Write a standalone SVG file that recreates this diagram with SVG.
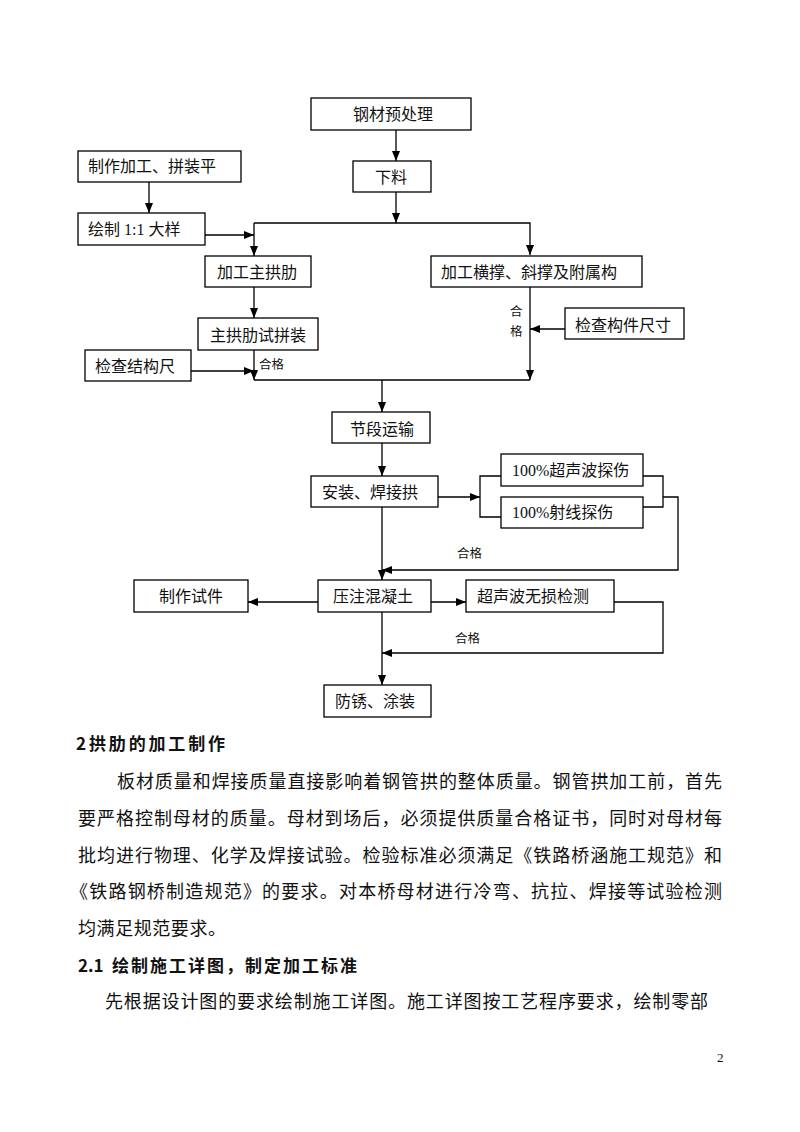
<svg xmlns="http://www.w3.org/2000/svg" width="800" height="1132" viewBox="0 0 800 1132">
<style>
.box{fill:#fff;stroke:#000;stroke-width:1.3}
.lbl{font-family:"Liberation Serif","Noto Sans CJK SC",serif;font-size:16px;fill:#111}
.sm{font-family:"Noto Sans CJK SC",sans-serif;font-size:12.5px;fill:#111}
.ln{fill:none;stroke:#000;stroke-width:1.3}
.body{font-family:"Liberation Serif","Noto Sans CJK SC",serif;font-size:18px;fill:#111}
.hd{font-family:"Noto Sans CJK SC",sans-serif;font-size:17px;font-weight:bold;fill:#111}
</style>
<defs>
<marker id="ah" markerWidth="10" markerHeight="8" refX="10" refY="4" orient="auto" markerUnits="userSpaceOnUse">
<path d="M0,0 L10,4 L0,8 Z" fill="#000"/>
</marker>
</defs>
<rect width="800" height="1132" fill="#fff"/>

<g id="connectors">
<line class="ln" x1="396" y1="130" x2="396" y2="161" marker-end="url(#ah)"/>
<line class="ln" x1="396" y1="192" x2="396" y2="223" marker-end="url(#ah)"/>
<polyline class="ln" points="254,223 530,223 530,255" marker-end="url(#ah)"/>
<line class="ln" x1="254" y1="223" x2="254" y2="256" marker-end="url(#ah)"/>
<line class="ln" x1="149" y1="182" x2="149" y2="213" marker-end="url(#ah)"/>
<line class="ln" x1="205" y1="235" x2="254" y2="235" marker-end="url(#ah)"/>
<line class="ln" x1="254" y1="287" x2="254" y2="318" marker-end="url(#ah)"/>
<line class="ln" x1="254" y1="350" x2="254" y2="380" marker-end="url(#ah)"/>
<line class="ln" x1="191" y1="371" x2="254" y2="371" marker-end="url(#ah)"/>
<line class="ln" x1="254" y1="380" x2="530" y2="380"/>
<line class="ln" x1="530" y1="287" x2="530" y2="380" marker-end="url(#ah)"/>
<line class="ln" x1="565" y1="329" x2="530" y2="329" marker-end="url(#ah)"/>
<line class="ln" x1="382" y1="380" x2="382" y2="412" marker-end="url(#ah)"/>
<line class="ln" x1="382" y1="443" x2="382" y2="476" marker-end="url(#ah)"/>
<line class="ln" x1="438" y1="497" x2="480" y2="497" marker-end="url(#ah)"/>
<polyline class="ln" points="501,476 480,476 480,517 501,517"/>
<polyline class="ln" points="643,476 663,476 663,507 643,507"/>
<polyline class="ln" points="663,497 678,497 678,570 382,570" marker-end="url(#ah)"/>
<line class="ln" x1="382" y1="507" x2="382" y2="580" marker-end="url(#ah)"/>
<line class="ln" x1="318" y1="602" x2="248" y2="602" marker-end="url(#ah)"/>
<line class="ln" x1="431" y1="602" x2="466" y2="602" marker-end="url(#ah)"/>
<polyline class="ln" points="614,602 663,602 663,653 382,653" marker-end="url(#ah)"/>
<line class="ln" x1="382" y1="612" x2="382" y2="685" marker-end="url(#ah)"/>
<text class="sm" x="259" y="369">合格</text>
<text class="sm" x="510" y="316">合</text>
<text class="sm" x="510" y="336">格</text>
<text class="sm" x="457" y="558">合格</text>
<text class="sm" x="455" y="643">合格</text>
</g>

<g id="n_gcyc"><rect class="box" x="311" y="98" width="160" height="32"/><text class="lbl" x="353" y="120">钢材预处理</text></g>
<g id="n_xl"><rect class="box" x="353" y="161" width="78" height="31"/><text class="lbl" x="375" y="183">下料</text></g>
<g id="n_zzjg"><rect class="box" x="78" y="151" width="163" height="31"/><text class="lbl" x="88" y="172">制作加工、拼装平</text></g>
<g id="n_hzdy"><rect class="box" x="78" y="213" width="127" height="32"/><text class="lbl" x="88" y="235">绘制 1:1 大样</text></g>
<g id="n_jgzgl"><rect class="box" x="205" y="256" width="106" height="31"/><text class="lbl" x="217" y="278">加工主拱肋</text></g>
<g id="n_jghc"><rect class="box" x="431" y="256" width="211" height="31"/><text class="lbl" x="441" y="278">加工横撑、斜撑及附属构</text></g>
<g id="n_zglspz"><rect class="box" x="198" y="318" width="120" height="32"/><text class="lbl" x="210" y="341">主拱肋试拼装</text></g>
<g id="n_jcjgc"><rect class="box" x="85" y="350" width="106" height="31"/><text class="lbl" x="95" y="372">检查结构尺</text></g>
<g id="n_jcgjcc"><rect class="box" x="565" y="308" width="119" height="31"/><text class="lbl" x="575" y="331">检查构件尺寸</text></g>
<g id="n_jdys"><rect class="box" x="332" y="412" width="98" height="31"/><text class="lbl" x="350" y="435">节段运输</text></g>
<g id="n_azhj"><rect class="box" x="311" y="476" width="127" height="31"/><text class="lbl" x="322" y="498">安装、焊接拱</text></g>
<g id="n_csb"><rect class="box" x="501" y="454" width="142" height="32"/><text class="lbl" x="512" y="476">100%超声波探伤</text></g>
<g id="n_sx"><rect class="box" x="501" y="497" width="142" height="31"/><text class="lbl" x="512" y="518">100%射线探伤</text></g>
<g id="n_zzsj"><rect class="box" x="134" y="580" width="114" height="32"/><text class="lbl" x="159" y="602">制作试件</text></g>
<g id="n_yzhnt"><rect class="box" x="318" y="580" width="113" height="32"/><text class="lbl" x="333" y="602">压注混凝土</text></g>
<g id="n_csbws"><rect class="box" x="466" y="580" width="148" height="32"/><text class="lbl" x="477" y="602">超声波无损检测</text></g>
<g id="n_fxtz"><rect class="box" x="324" y="685" width="107" height="32"/><text class="lbl" x="335" y="707">防锈、涂装</text></g>

<g id="text">
<text class="hd" x="76" y="749.5">2</text>
<text class="hd" x="89" y="749.5" textLength="136" lengthAdjust="spacing">拱肋的加工制作</text>
<text class="body" x="117" y="788" textLength="605" lengthAdjust="spacing">板材质量和焊接质量直接影响着钢管拱的整体质量。钢管拱加工前，首先</text>
<text class="body" x="78" y="825" textLength="644" lengthAdjust="spacing">要严格控制母材的质量。母材到场后，必须提供质量合格证书，同时对母材每</text>
<text class="body" x="78" y="862" textLength="644" lengthAdjust="spacing">批均进行物理、化学及焊接试验。检验标准必须满足《铁路桥涵施工规范》和</text>
<text class="body" x="70" y="898" textLength="652" lengthAdjust="spacing">《铁路钢桥制造规范》的要求。对本桥母材进行冷弯、抗拉、焊接等试验检测</text>
<text class="body" x="78" y="935" textLength="148" lengthAdjust="spacing">均满足规范要求。</text>
<text class="hd" x="78" y="971.5">2.1</text>
<text class="hd" x="112" y="971.5" textLength="245" lengthAdjust="spacing">绘制施工详图，制定加工标准</text>
<text class="body" x="105" y="1008" textLength="603" lengthAdjust="spacing">先根据设计图的要求绘制施工详图。施工详图按工艺程序要求，绘制零部</text>
<text x="717" y="1062" style="font-family:'Liberation Serif',serif;font-size:13px;fill:#111">2</text>
</g>
</svg>
